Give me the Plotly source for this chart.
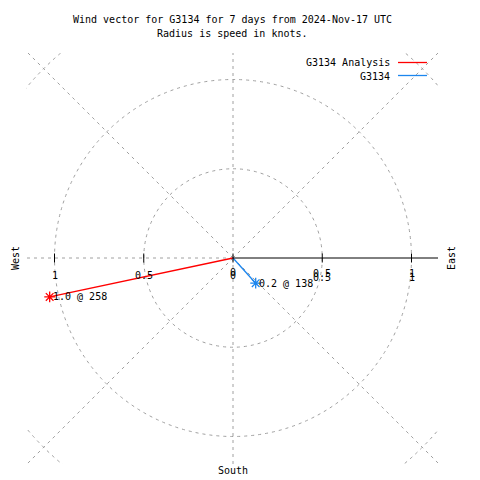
import plotly.graph_objects as go
import numpy as np

# ---- data ----
series_names = ["G3134 Analysis", "G3134"]
speeds = [1.05, 0.19]            # knots
directions = [258, 138]          # degrees (compass)
labels = ["1.0 @ 258", "0.2 @ 138"]
colors = ["#ff0000", "#1c86ee"]
ring_values = [0.5, 1.0, 1.5]
tick_values = [-1.0, -0.5, 0.0, 0.5, 1.0]
tick_labels_west = ["1", "0.5", "0"]
tick_labels_east = ["0.5", "1"]

FONT = "DejaVu Sans Mono"
GRID = "#a0a0a0"

# plot area in pixels
L, R, T, B = 26, 438, 53, 464
CX, CY, S = 233, 258, 178.5
xr = [(L - CX) / S, (R - CX) / S]
yr = [(CY - B) / S, (CY - T) / S]

def px(p):
    return (p - L) / (R - L)

def py(p):
    return (B - p) / (B - T)

def tfont():
    return dict(family=FONT, size=10, color="black")

fig = go.Figure()
ann = []

for name, sp, d, lab, c in zip(series_names, speeds, directions, labels, colors):
    ex = sp * np.sin(np.radians(d))
    ey = sp * np.cos(np.radians(d))
    fig.add_trace(go.Scatter(x=[0, ex], y=[0, ey], mode="lines", name=name,
                             line=dict(color=c, width=1.3), showlegend=False))
    fig.add_trace(go.Scatter(x=[ex], y=[ey], mode="markers", showlegend=False,
                             marker=dict(symbol="asterisk-open", size=9, color=c,
                                         line=dict(color=c, width=1.3))))
    ann.append(dict(xref="x", yref="y", x=ex, y=ey, text=lab, showarrow=False,
                    xanchor="left", yanchor="middle", xshift=1, font=tfont()))

shapes = []
for r in ring_values:
    shapes.append(dict(type="circle", xref="x", yref="y", x0=-r, y0=-r, x1=r, y1=r,
                       line=dict(color=GRID, width=1, dash="3px,4px"), layer="below"))
for a in [45, 90, 135, 180, 225, 270, 315]:
    shapes.append(dict(type="line", xref="x", yref="y", x0=0, y0=0,
                       x1=2 * np.cos(np.radians(a)), y1=2 * np.sin(np.radians(a)),
                       line=dict(color=GRID, width=1, dash="3px,4px"), layer="below"))
shapes.append(dict(type="line", xref="x", yref="y", x0=0, y0=0, x1=xr[1], y1=0,
                   line=dict(color="black", width=1)))
for t in tick_values:
    shapes.append(dict(type="line", xref="x", yref="y", x0=t, x1=t,
                       y0=-4.5 / S, y1=4.5 / S, line=dict(color="black", width=1)))
for i, c in enumerate(colors):
    yy = py(62.5 + 13 * i)
    shapes.append(dict(type="line", xref="paper", yref="paper", x0=px(398), x1=px(427),
                       y0=yy, y1=yy, line=dict(color=c, width=1.3)))

for i, n in enumerate(series_names):
    ann.append(dict(xref="paper", yref="paper", x=px(392), y=py(63 + 13 * i),
                    text=n, showarrow=False, xanchor="right", yanchor="middle",
                    font=tfont()))
for t, lab in zip([-1.0, -0.5, 0.0], tick_labels_west):
    ann.append(dict(xref="x", yref="y", x=t, y=0, yshift=-17, text=lab, showarrow=False,
                    xanchor="center", yanchor="middle", font=tfont()))
for t, lab in zip([0.5, 1.0], tick_labels_east):
    for sh in (-15, -19):
        ann.append(dict(xref="x", yref="y", x=t, y=0, yshift=sh, text=lab, showarrow=False,
                        xanchor="center", yanchor="middle", font=tfont()))
ann.append(dict(xref="x", yref="y", x=0, y=0, yshift=-14, text="0", showarrow=False,
                xanchor="center", yanchor="middle", font=tfont()))
ann.append(dict(xref="paper", yref="paper", x=px(15), y=py(258), text="West", textangle=-90,
                showarrow=False, xanchor="center", yanchor="middle", font=tfont()))
ann.append(dict(xref="paper", yref="paper", x=px(451), y=py(258), text="East", textangle=-90,
                showarrow=False, xanchor="center", yanchor="middle", font=tfont()))
ann.append(dict(xref="paper", yref="paper", x=px(233), y=py(470), text="South",
                showarrow=False, xanchor="center", yanchor="middle", font=tfont()))
ann.append(dict(xref="paper", yref="paper", x=px(232), y=py(20),
                text="Wind vector for G3134 for 7 days from 2024-Nov-17 UTC",
                showarrow=False, xanchor="center", yanchor="middle", font=tfont()))
ann.append(dict(xref="paper", yref="paper", x=px(232), y=py(33),
                text="Radius is speed in knots.",
                showarrow=False, xanchor="center", yanchor="middle", font=tfont()))

fig.update_layout(
    width=480, height=480, autosize=False,
    margin=dict(l=L, r=480 - R, t=T, b=480 - B, pad=0),
    paper_bgcolor="white", plot_bgcolor="white",
    xaxis=dict(range=xr, visible=False, fixedrange=True),
    yaxis=dict(range=yr, visible=False, fixedrange=True),
    shapes=shapes, annotations=ann, showlegend=False,
)

fig.write_html("out.html", config={"displayModeBar": False},
               post_script="document.body.style.margin='0';document.body.style.padding='0';")
